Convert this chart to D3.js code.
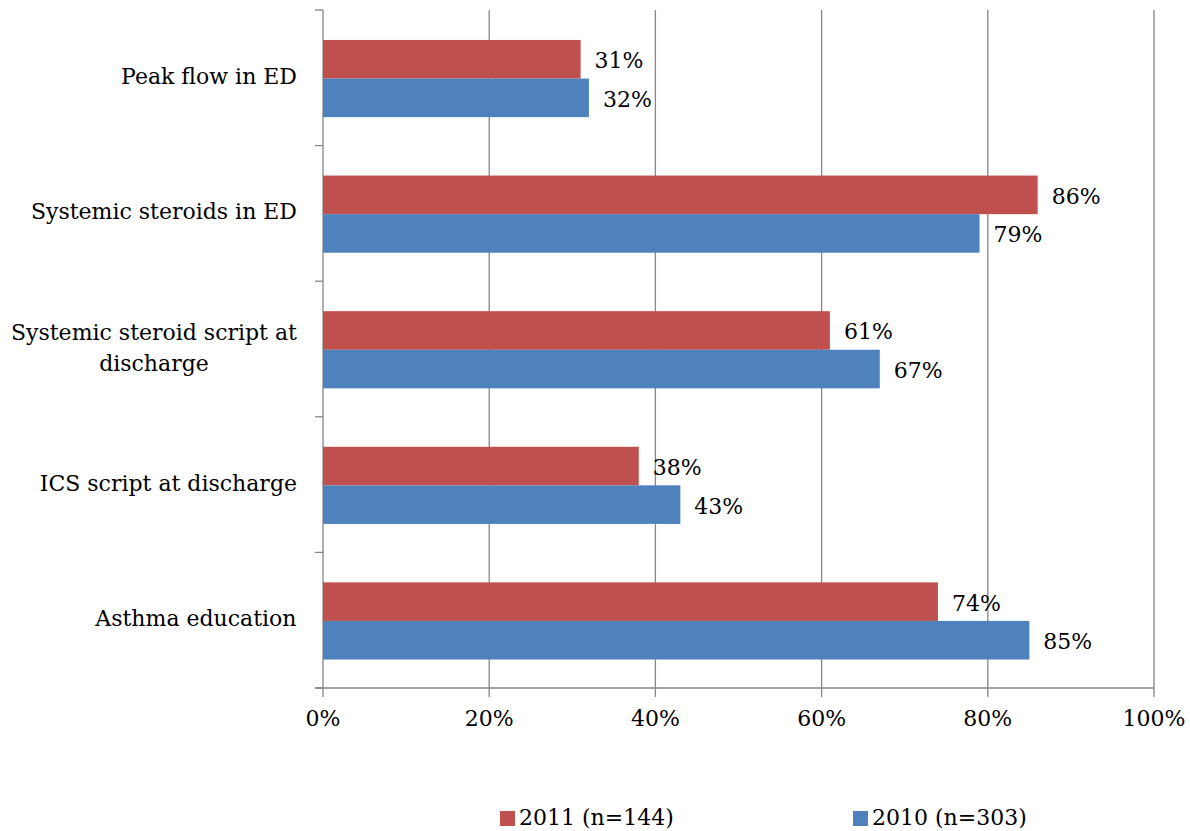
<!DOCTYPE html>
<html><head><meta charset="utf-8">
<script src="https://cdn.jsdelivr.net/npm/d3@7"></script>
<style>body{margin:0;background:#fff}svg{display:block}text{font-family:"DejaVu Serif","Liberation Serif",serif;fill:#000}</style>
</head><body><svg id="c" width="1190" height="831"></svg>
<script>
const categories = [["Peak flow in ED"],["Systemic steroids in ED"],["Systemic steroid script at","discharge"],["ICS script at discharge"],["Asthma education"]];
const series = ["2011 (n=144)","2010 (n=303)"];
const values2011 = [31,86,61,38,74];
const values2010 = [32,79,67,43,85];
const xTicks = [0,20,40,60,80,100];
const colors = ["#C0504D","#4F81BD"];

const svg = d3.select("#c");
const L=323, R=1154, T=10, B=688;
const FS = 22;
const x = d3.scaleLinear().domain([0,100]).range([L,R]);
const y = d3.scaleBand().domain(d3.range(categories.length)).range([T,B]);
const bw = y.bandwidth();
const inner = d3.scaleBand().domain([0,1]).range([bw*0.221, bw*0.79]);

const g = svg.append("g");
g.selectAll("line.grid").data(xTicks.slice(1)).join("line")
 .attr("x1",d=>x(d)).attr("x2",d=>x(d)).attr("y1",T).attr("y2",B+9)
 .attr("stroke","#868686").attr("stroke-width",1.3);
g.append("line").attr("x1",x(0)).attr("x2",x(0)).attr("y1",T).attr("y2",B+9).attr("stroke","#868686").attr("stroke-width",1.3);
const vals=[values2011,values2010];
vals.forEach((vs,si)=>{
  g.selectAll("rect.s"+si).data(vs).join("rect")
   .attr("x",x(0)).attr("y",(d,i)=>y(i)+inner(si)).attr("width",d=>x(d)-x(0)).attr("height",inner.bandwidth())
   .attr("fill",colors[si]);
  g.selectAll("text.l"+si).data(vs).join("text")
   .attr("x",d=>x(d)+14).attr("y",(d,i)=>y(i)+inner(si)+inner.bandwidth()/2+3)
   .attr("dominant-baseline","middle").attr("font-size",FS).text(d=>d+"%");
});
g.selectAll("line.yt").data(d3.range(categories.length+1)).join("line")
 .attr("x1",x(0)-8).attr("x2",x(0)).attr("y1",i=>T+i*bw).attr("y2",i=>T+i*bw).attr("stroke","#868686").attr("stroke-width",1.3);
g.append("line").attr("x1",x(0)-8).attr("x2",R).attr("y1",B).attr("y2",B).attr("stroke","#868686").attr("stroke-width",1.3);
g.selectAll("text.xt").data(xTicks).join("text")
 .attr("x",d=>x(d)).attr("y",720).attr("dominant-baseline","middle").attr("text-anchor","middle").attr("font-size",FS).text(d=>d+"%");
categories.forEach((lines,i)=>{
  const t = g.append("text").attr("font-size",FS).attr("text-anchor","middle");
  const lh = 31;
  const cy = y(i)+bw/2;
  lines.forEach((s,k)=>{
    t.append("tspan").attr("x",0).attr("y",cy+(k-(lines.length-1)/2)*lh).attr("dominant-baseline","middle").text(s);
  });
  const w = t.node().getBBox().width;
  t.selectAll("tspan").attr("x",297-w/2);
});
const lx=[500,853];
series.forEach((s,i)=>{
  svg.append("rect").attr("x",lx[i]).attr("y",811).attr("width",15).attr("height",15).attr("fill",colors[i]);
  svg.append("text").attr("x",lx[i]+19).attr("y",819).attr("dominant-baseline","middle").attr("font-size",FS).text(s);
});
</script></body></html>
